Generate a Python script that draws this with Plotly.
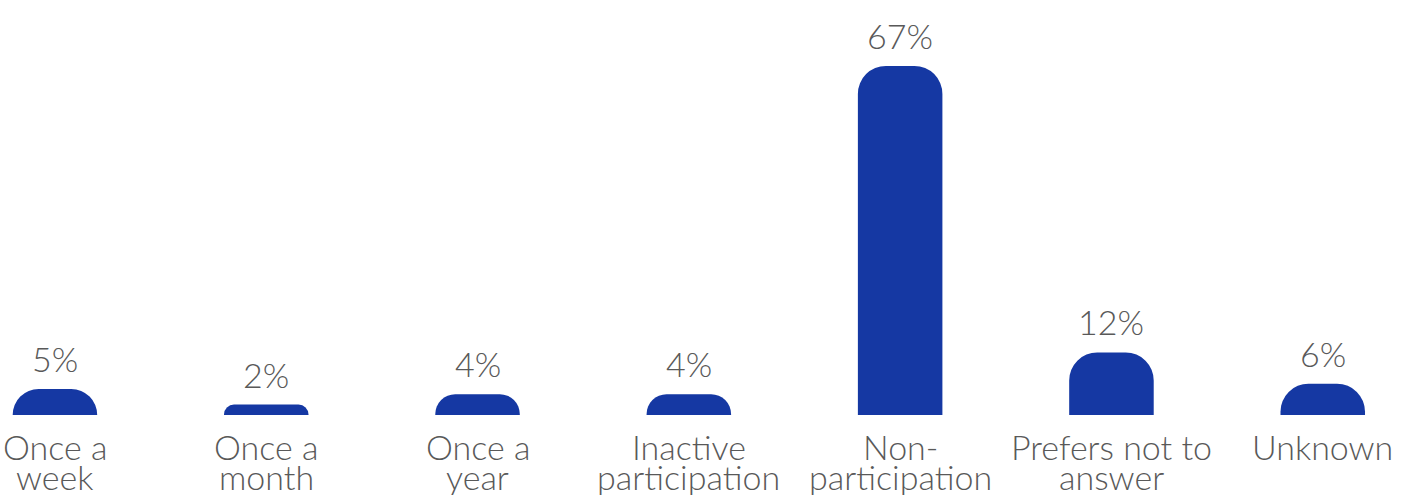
import plotly.graph_objects as go

# Survey responses: frequency of participation
categories = ["Once a\nweek", "Once a\nmonth", "Once a\nyear", "Inactive\nparticipation",
              "Non-\nparticipation", "Prefers not to\nanswer", "Unknown"]
shares = [5, 2, 4, 4, 67, 12, 6]
value_labels = ["5%", "2%", "4%", "4%", "67%", "12%", "6%"]

BAR_COLOR = "#1538A3"
TEXT_COLOR = "#595959"
FONT = "Lato"
FONT_SIZE = 34

x_pos = list(range(len(categories)))

fig = go.Figure(
    go.Bar(
        x=x_pos,
        y=shares,
        width=0.40,
        marker=dict(color=BAR_COLOR, cornerradius=28, line=dict(width=0)),
        hoverinfo="skip",
    )
)

annotations = []

# Percentage labels above each bar
for i, (v, lab) in enumerate(zip(shares, value_labels)):
    annotations.append(dict(
        x=i, y=v, xref="x", yref="y",
        text=lab, showarrow=False,
        xanchor="center", yanchor="bottom",
        yshift=8,
        font=dict(family=FONT, size=FONT_SIZE, color=TEXT_COLOR, weight=300),
    ))

# Category names, one annotation per text line
for i, label in enumerate(categories):
    for j, line in enumerate(label.split("\n")):
        annotations.append(dict(
            x=i, y=0, xref="x", yref="y",
            text=line, showarrow=False,
            xanchor="center", yanchor="top",
            yshift=-9 - 30 * j,
            font=dict(family=FONT, size=FONT_SIZE, color=TEXT_COLOR, weight=300),
        ))

fig.update_layout(
    width=1406, height=495,
    margin=dict(l=0, r=0, t=0, b=80),
    paper_bgcolor="white", plot_bgcolor="white",
    showlegend=False,
    annotations=annotations,
    xaxis=dict(range=[-0.26, 6.394], showgrid=False, zeroline=False,
               showticklabels=False, showline=False),
    yaxis=dict(range=[0, 79.65], showgrid=False, zeroline=False,
               showticklabels=False, showline=False),
)

fig.write_html("out.html")
